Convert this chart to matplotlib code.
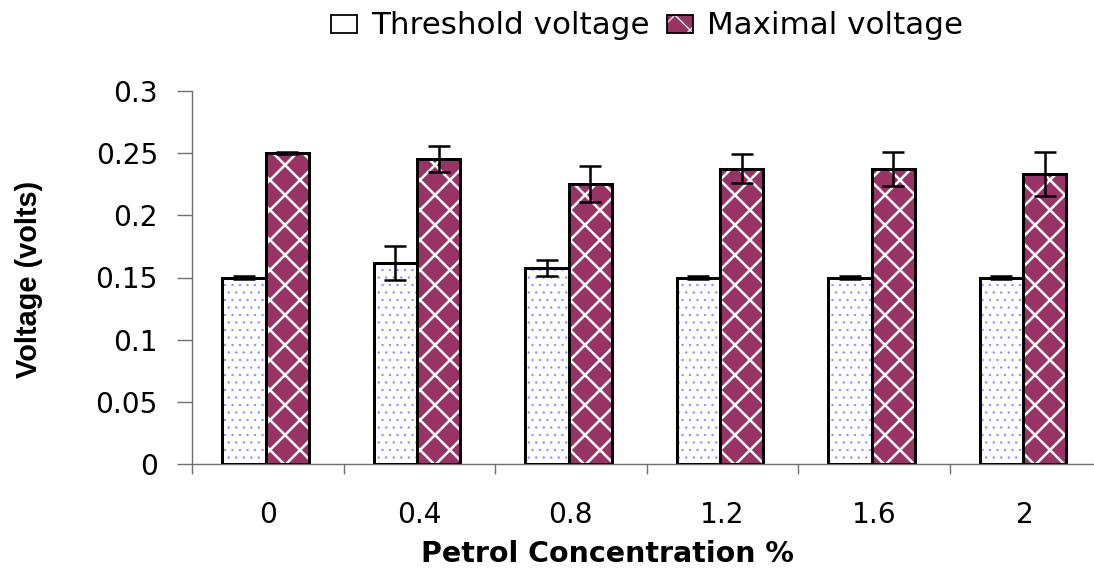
import matplotlib
matplotlib.use("Agg")
import matplotlib.pyplot as plt
from matplotlib.patches import Patch
from matplotlib.legend_handler import HandlerTuple
import numpy as np

# ---- data ----
categories = ["0", "0.4", "0.8", "1.2", "1.6", "2"]
threshold = [0.150, 0.1620, 0.1578, 0.150, 0.150, 0.150]
threshold_err = [0.0015, 0.0137, 0.0064, 0.0015, 0.0015, 0.0015]
maximal = [0.250, 0.2455, 0.2253, 0.2375, 0.2374, 0.2332]
maximal_err = [0.0006, 0.0106, 0.0145, 0.0118, 0.0135, 0.0175]
yticks = [0, 0.05, 0.1, 0.15, 0.2, 0.25, 0.3]
ytick_labels = ["0", "0.05", "0.1", "0.15", "0.2", "0.25", "0.3"]

W, H = 1094, 574
DPI = 90


def px(v):
    """pixels -> points at the chosen dpi"""
    return v * 72.0 / DPI


fig = plt.figure(figsize=(W / DPI, H / DPI), dpi=DPI)
ax = fig.add_axes([192 / W, (H - 464) / H, 909 / W, (464 - 91) / H])

x = np.arange(len(categories))
bw = 0.285
xt = x - 0.157
xm = x + 0.128

MAROON = "#993366"
DOT = "#8c8cff"
GREY = "#707070"


def hatch_bar(xs, ys, color, hcolor, hatch, hlw):
    with plt.rc_context({"hatch.linewidth": hlw, "hatch.color": hcolor}):
        bars = ax.bar(xs, ys, bw, color=color, edgecolor=hcolor, hatch=hatch,
                      linewidth=0, zorder=2)
    for b in bars:
        if hasattr(b, "set_hatch_linewidth"):
            b.set_hatch_linewidth(hlw)
    return bars


hatch_bar(xt, threshold, "white", DOT, "..", px(0.8))
hatch_bar(xm, maximal, MAROON, "white", "x", px(2.5))
ax.bar(xt, threshold, bw, fill=False, edgecolor="black", linewidth=px(3), zorder=3)
ax.bar(xm, maximal, bw, fill=False, edgecolor="black", linewidth=px(3), zorder=3)

ax.errorbar(xt, threshold, yerr=threshold_err, fmt="none", ecolor="black",
            elinewidth=px(2.5), capsize=px(11.5), capthick=px(2.5), zorder=4)
ax.errorbar(xm, maximal, yerr=maximal_err, fmt="none", ecolor="black",
            elinewidth=px(2.5), capsize=px(11.5), capthick=px(2.5), zorder=4)

ax.set_xlim(-0.5, len(categories) - 0.5)
ax.set_ylim(0, 0.3)

for s in ["top", "right"]:
    ax.spines[s].set_visible(False)
for s in ["left", "bottom"]:
    ax.spines[s].set_color(GREY)
    ax.spines[s].set_linewidth(px(1.4))

ax.set_yticks(yticks)
ax.set_yticklabels(ytick_labels, fontsize=px(28), family="DejaVu Sans")
ax.tick_params(axis="y", direction="out", length=px(15), width=px(1.4),
               color=GREY, pad=px(19))

ax.set_xticks(x)
ax.set_xticklabels(categories, fontsize=px(28), family="DejaVu Sans")
ax.set_xticks(np.arange(-0.5, len(categories), 1.0), minor=True)
ax.tick_params(axis="x", which="major", length=0, pad=px(37))
ax.tick_params(axis="x", which="minor", direction="out", length=px(10),
               width=px(1.4), color=GREY)

fig.text(607 / W, (H - 562) / H, "Petrol Concentration %", ha="center",
         va="baseline", fontsize=px(28.5), fontweight="bold", family="DejaVu Sans")
fig.text(29 / W, (H - 279) / H, "Voltage (volts)", rotation=90, ha="center",
         va="center", fontsize=px(29), fontweight="bold",
         family="Liberation Sans")

# legend
LFS = 31
h_t = Patch(facecolor="white", edgecolor="black", linewidth=px(1.8))
with plt.rc_context({"hatch.linewidth": px(2.0), "hatch.color": "white"}):
    h_m_fill = Patch(facecolor=MAROON, edgecolor="white", hatch="x", linewidth=0)
if hasattr(h_m_fill, "set_hatch_linewidth"):
    h_m_fill.set_hatch_linewidth(px(2.0))
h_m_edge = Patch(fill=False, edgecolor="black", linewidth=px(1.8))
fig.legend([h_t, (h_m_fill, h_m_edge)], ["Threshold voltage", "Maximal voltage"],
           handler_map={tuple: HandlerTuple(ndivide=1)},
           loc="center", bbox_to_anchor=(647 / W, 1 - 26 / H), ncol=2,
           frameon=False, prop={"family": "DejaVu Sans", "size": px(LFS)},
           handlelength=26 / LFS, handleheight=16 / LFS,
           handletextpad=14 / LFS, columnspacing=18 / LFS,
           borderpad=0, borderaxespad=0)

fig.savefig("out.png", dpi=DPI)
